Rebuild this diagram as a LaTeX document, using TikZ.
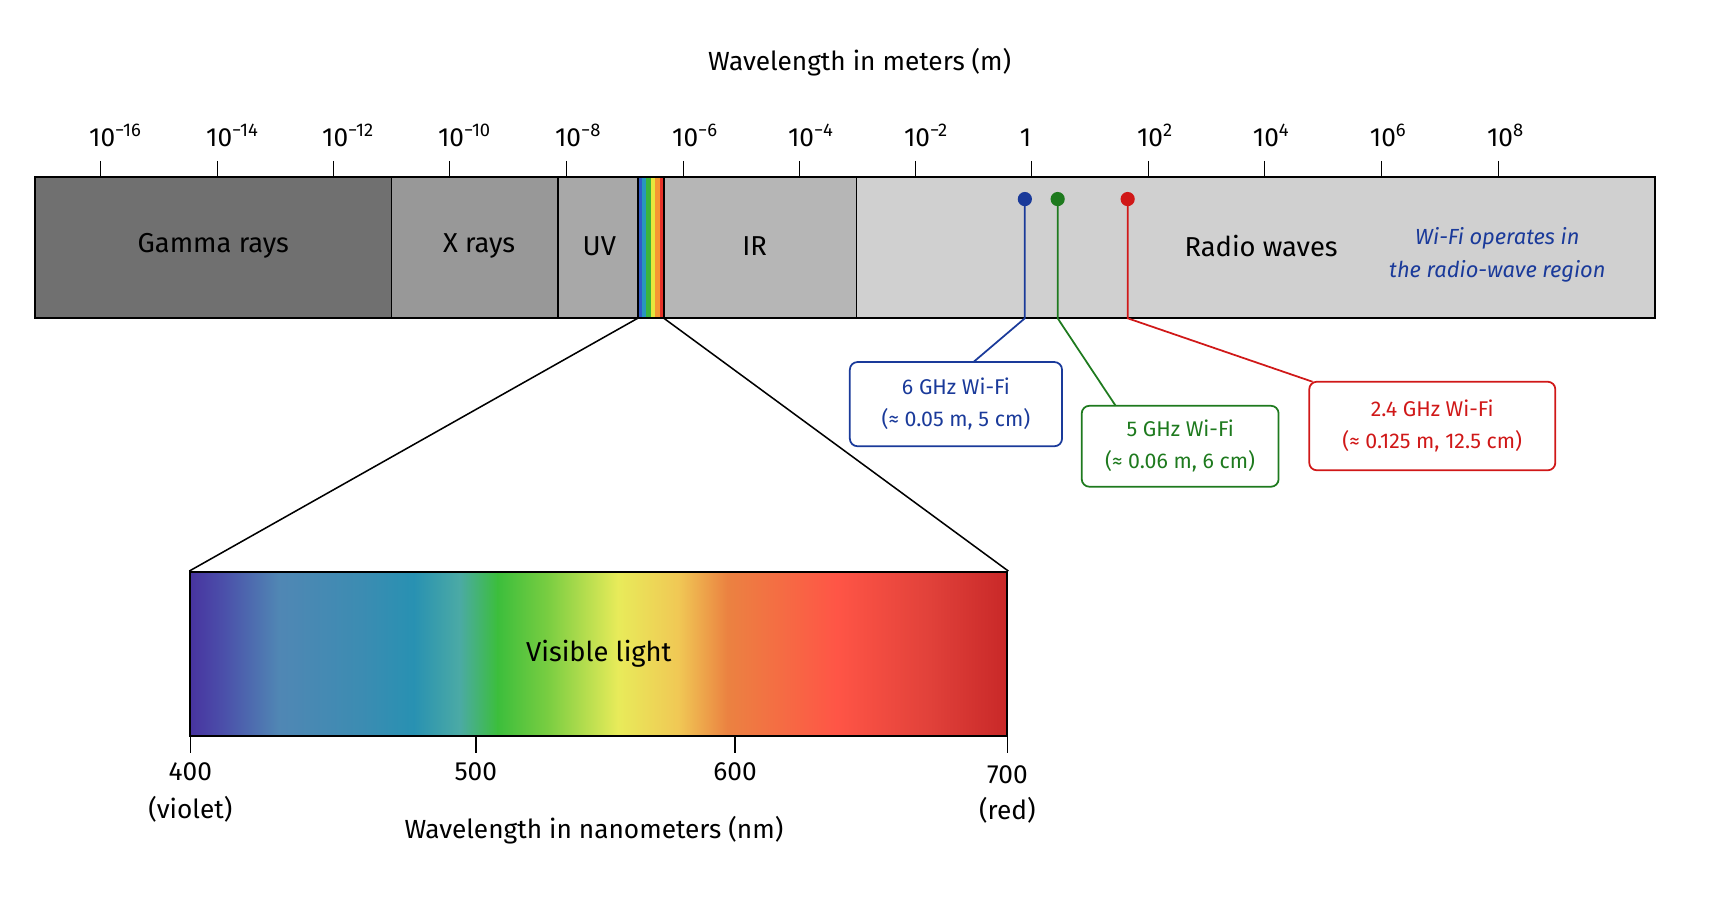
\documentclass[tikz,border=0pt]{standalone}
\usepackage{fontspec}
\setmainfont{Fira Sans}
\begin{document}
\begin{tikzpicture}[x=1pt,y=-1pt,
  lbl/.style={font=\fontsize{25}{28}\selectfont},
  tick/.style={font=\fontsize{24}{26}\selectfont},
  wbox/.style={draw,line width=1.6pt,rounded corners=7pt,align=center,font=\fontsize{19.5}{29}\selectfont,inner sep=0pt},
  wline/.style={line width=1.6pt}]
\useasboundingbox (0,0) rectangle (1568,838);
\definecolor{wblue}{HTML}{1A3A9A}
\definecolor{wgreen}{HTML}{1E7A1E}
\definecolor{wred}{HTML}{D01818}
\node[font=\fontsize{24}{26}\selectfont] (title) at (786,57) {Wavelength in meters (m)};
% bar sections
\fill[fill={rgb,255:red,112;green,112;blue,112}] (32,162) rectangle (358,291);
\fill[fill={rgb,255:red,152;green,152;blue,152}] (358,162) rectangle (510,291);
\fill[fill={rgb,255:red,168;green,168;blue,168}] (510,162) rectangle (583,291);
\fill[fill={rgb,255:red,182;green,182;blue,182}] (607,162) rectangle (783,291);
\fill[fill={rgb,255:red,208;green,208;blue,208}] (783,162) rectangle (1513,291);
% rainbow strip
\foreach \c [count=\i from 0] in {{rgb,255:red,50;green,90;blue,200},{rgb,255:red,40;green,150;blue,190},{rgb,255:red,60;green,180;blue,60},{rgb,255:red,230;green,230;blue,60},{rgb,255:red,245;green,150;blue,50},{rgb,255:red,230;green,50;blue,40}}
  \fill[fill=\c] (583+4*\i,162) rectangle (587+4*\i,291);
\draw[line width=1.8pt] (32,162) rectangle (1513,291);
\foreach \x in {358,510,583,607,783} \draw[line width=1.6pt] (\x,162) -- (\x,291);
% ticks
\foreach \x/\t in {92/10\textsuperscript{−16},199/10\textsuperscript{−14},305/10\textsuperscript{−12},411/10\textsuperscript{−10},518/10\textsuperscript{−8},625/10\textsuperscript{−6},731/10\textsuperscript{−4},837/10\textsuperscript{−2},943/1,1050/10\textsuperscript{2},1156/10\textsuperscript{4},1263/10\textsuperscript{6},1370/10\textsuperscript{8}}{
  \draw[line width=1.4pt] (\x,147) -- (\x,162);
  \node[tick,anchor=base west,xshift=-14pt] at (\x,134) {\t};}
\node[tick] at (943,124) {};
% labels
\node[lbl] (gamma) at (195,225) {Gamma rays};
\node[lbl] (xr) at (438,225) {X rays};
\node[lbl] (uv) at (548,225) {UV};
\node[lbl] (ir) at (690,225) {IR};
\node[lbl] (radio) at (1153,225) {Radio waves};
\node[align=center,text=wblue,font=\fontsize{20}{30}\selectfont\itshape] (wifi) at (1369,233) {Wi-Fi operates in\\the radio-wave region};
% wifi markers
\coordinate (b0) at (937,182); \coordinate (g0) at (967,182); \coordinate (r0) at (1031,182);
\node[wbox,text=wblue,draw=wblue,minimum width=194pt,minimum height=77pt] (b6) at (874,369.5) {6 GHz Wi-Fi\\(≈ 0.05 m, 5 cm)};
\node[wbox,text=wgreen,draw=wgreen,minimum width=180pt,minimum height=74pt] (g5) at (1079,408) {5 GHz Wi-Fi\\(≈ 0.06 m, 6 cm)};
\node[wbox,text=wred,draw=wred,minimum width=225pt,minimum height=81pt] (r24) at (1309.5,389.5) {2.4 GHz Wi-Fi\\(≈ 0.125 m, 12.5 cm)};
\draw[wline,wblue] (b0) -- (937,291) -- (890,331);
\draw[wline,wgreen] (g0) -- (967,291) -- (1020,371);
\draw[wline,wred] (r0) -- (1031,291) -- (1200,349);
\fill[wblue] (b0) circle (6.5pt);
\fill[wgreen] (g0) circle (6.5pt);
\fill[wred] (r0) circle (6.5pt);
% visible light
\def\seg#1#2#3#4{\shade[left color={rgb,255:#2},right color={rgb,255:#4}] (#1,523) rectangle (#3,673);}
\seg{174}{red,72;green,52;blue,160}{205}{red,75;green,80;blue,170}
\seg{205}{red,75;green,80;blue,170}{255}{red,80;green,135;blue,180}
\seg{255}{red,80;green,135;blue,180}{330}{red,60;green,140;blue,178}
\seg{330}{red,60;green,140;blue,178}{378}{red,40;green,145;blue,178}
\seg{378}{red,40;green,145;blue,178}{420}{red,75;green,170;blue,165}
\seg{420}{red,75;green,170;blue,165}{455}{red,60;green,190;blue,60}
\seg{455}{red,60;green,190;blue,60}{500}{red,120;green,205;blue,65}
\seg{500}{red,120;green,205;blue,65}{565}{red,232;green,235;blue,90}
\seg{565}{red,232;green,235;blue,90}{620}{red,240;green,200;blue,85}
\seg{620}{red,240;green,200;blue,85}{665}{red,235;green,130;blue,65}
\seg{665}{red,235;green,130;blue,65}{765}{red,255;green,85;blue,70}
\seg{765}{red,255;green,85;blue,70}{850}{red,225;green,65;blue,58}
\seg{850}{red,225;green,65;blue,58}{921}{red,200;green,40;blue,40}
\node[draw,line width=1.8pt,minimum width=747pt,minimum height=150pt,inner sep=0pt,font=\fontsize{25}{28}\selectfont] (vis) at (547.5,598) {Visible light};
\draw[line width=1.4pt] (583,291) -- (vis.north west);
\draw[line width=1.4pt] (607,291) -- (vis.north east);
\foreach \x in {174,435,672,921} \draw[line width=1.4pt] (\x,673) -- (\x,688);
\node[tick] (n400) at (174,706) {400};
\node[tick] (n500) at (435,706) {500};
\node[tick] (n600) at (672,706) {600};
\node[tick] (n700) at (921,708) {700};
\node[tick] (viol) at (174,740) {(violet)};
\node[tick] (redl) at (921,741) {(red)};
\node[tick] (nmt) at (543,759) {Wavelength in nanometers (nm)};
\end{tikzpicture}
\end{document}
